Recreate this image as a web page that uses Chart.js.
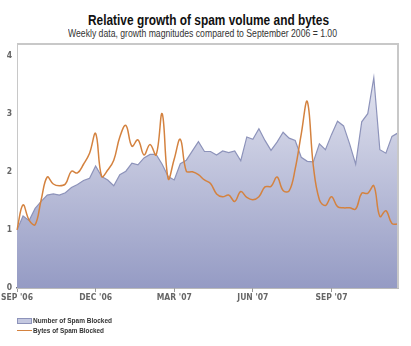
<!DOCTYPE html>
<html lang="en">
<head>
    <meta charset="UTF-8">
    <title>Relative growth of spam volume and bytes</title>
    <script src="https://cdn.jsdelivr.net/npm/chart.js"></script>
    <style>
        body { margin: 0; background: #fff; width: 411px; height: 346px; overflow: hidden; position: relative;
               font-family: "Liberation Sans", Arial, sans-serif; }
        #chart { position: absolute; left: 0; top: 0; }
        .fit { position: absolute; white-space: nowrap; transform-origin: 0 0; }
        .title { top: 12px; font-size: 14.5px; font-weight: bold; color: #111; }
        .subtitle { top: 28px; font-size: 10px; color: #333; }
        .legend { left: 17px; font-size: 7.5px; font-weight: bold; color: #333; }
        .sw { position: absolute; left: 17px; width: 15px; }
        .box { height: 4px; background: #c4c8e0; border: 1px solid #8d93ba; width: 13px; top: 318px; }
        .ln { height: 0; border-top: 1.5px solid #d4823f; top: 330px; }
    </style>
</head>
<body>
    <div class="fit title" data-x="88" data-w="241">Relative growth of spam volume and bytes</div>
    <div class="fit subtitle" data-x="68" data-w="269">Weekly data, growth magnitudes compared to September 2006 = 1.00</div>
    <canvas id="chart" width="411" height="346"></canvas>
    <div class="sw box"></div>
    <div class="fit legend" style="top:316px" data-x="33" data-w="79">Number of Spam Blocked</div>
    <div class="sw ln"></div>
    <div class="fit legend" style="top:326px" data-x="33" data-w="71">Bytes of Spam Blocked</div>

    <script>
        // weekly values, September 2006 = 1.00
        const spamCount = [1.00, 1.24, 1.16, 1.37, 1.49, 1.60, 1.62, 1.60, 1.64, 1.73,
                           1.78, 1.85, 1.89, 2.10, 1.92, 1.86, 1.76, 1.95, 2.01, 2.15,
                           2.12, 2.24, 2.30, 2.30, 2.13, 1.92, 1.86, 2.14, 2.20, 2.36,
                           2.52, 2.35, 2.35, 2.29, 2.36, 2.33, 2.36, 2.19, 2.60, 2.56,
                           2.74, 2.54, 2.37, 2.51, 2.68, 2.58, 2.54, 2.25, 2.18, 2.17,
                           2.48, 2.38, 2.64, 2.87, 2.79, 2.48, 2.13, 2.86, 3.00, 3.62,
                           2.38, 2.32, 2.61, 2.67];
        const spamBytes = [1.00, 1.43, 1.17, 1.09, 1.52, 1.91, 1.79, 1.76, 1.79, 2.01,
                           1.98, 2.13, 2.32, 2.66, 1.92, 2.03, 2.20, 2.60, 2.80, 2.44,
                           2.55, 2.29, 2.47, 2.29, 3.00, 1.88, 2.22, 2.56, 2.01, 2.00,
                           1.95, 1.86, 1.80, 1.62, 1.57, 1.60, 1.49, 1.66, 1.56, 1.52,
                           1.57, 1.74, 1.75, 1.91, 1.68, 1.67, 2.05, 2.65, 3.21, 2.10,
                           1.52, 1.42, 1.57, 1.40, 1.38, 1.38, 1.36, 1.63, 1.63, 1.76,
                           1.23, 1.33, 1.11, 1.10];
        const tickLabels = ["SEP '06", "DEC '06", "MAR '07", "JUN '07", "SEP '07"];
        const weeksPerTick = 13;
        const yTicks = [0, 1, 2, 3, 4];

        const weeks = spamCount.map((_, i) => i);
        const labelFont = { family: '"DejaVu Sans Condensed", sans-serif', size: 8.5, weight: 'bold' };

        // squeeze the narrow-looking texts to the widths in the picture
        document.querySelectorAll('.fit').forEach(el => {
            const w = el.getBoundingClientRect().width;
            el.style.left = el.dataset.x + 'px';
            el.style.transform = 'scaleX(' + (el.dataset.w / w) + ')';
        });

        // light frame round the plot (top and right edges)
        const frame = {
            id: 'frame',
            afterDatasetsDraw(chart) {
                const a = chart.chartArea, ctx = chart.ctx;
                ctx.save();
                ctx.strokeStyle = '#c8c8c8';
                ctx.lineWidth = 2;
                ctx.beginPath();
                ctx.moveTo(a.left, a.top);
                ctx.lineTo(a.right, a.top);
                ctx.lineTo(a.right, a.bottom);
                ctx.stroke();
                ctx.restore();
            }
        };

        function areaFill(context) {
            const a = context.chart.chartArea;
            if (!a) return '#c4c8e0';
            const g = context.chart.ctx.createLinearGradient(0, a.top, 0, a.bottom);
            g.addColorStop(0, '#eeeff6');
            g.addColorStop(1, '#959bc4');
            return g;
        }

        new Chart(document.getElementById('chart'), {
            type: 'line',
            data: {
                labels: weeks,
                datasets: [{
                    label: 'Bytes of Spam Blocked',
                    data: spamBytes,
                    borderColor: '#d4823f',
                    borderWidth: 1.5,
                    tension: 0.4,
                    pointRadius: 0,
                    fill: false,
                    order: 0
                }, {
                    label: 'Number of Spam Blocked',
                    data: spamCount,
                    borderColor: '#8d93ba',
                    borderWidth: 1.2,
                    backgroundColor: areaFill,
                    tension: 0,
                    pointRadius: 0,
                    fill: 'origin',
                    order: 1
                }]
            },
            options: {
                responsive: false,
                animation: false,
                layout: { padding: { top: 44, right: 13, bottom: 38, left: 0 } },
                plugins: { legend: { display: false }, title: { display: false }, tooltip: { enabled: false } },
                scales: {
                    x: {
                        type: 'category',
                        afterFit: s => { s.height = 20; },
                        grid: { drawOnChartArea: false, drawTicks: true, tickLength: 4, color: '#999' },
                        border: { display: true, color: '#777', width: 1.5 },
                        ticks: {
                            autoSkip: false, maxRotation: 0, padding: 1, color: '#666', font: labelFont,
                            callback: (v, i) => i % weeksPerTick === 0 ? tickLabels[i / weeksPerTick] : null
                        }
                    },
                    y: {
                        min: 0,
                        max: 4.2,
                        afterFit: s => { s.width = 17; },
                        afterBuildTicks: s => { s.ticks = yTicks.map(v => ({ value: v })); },
                        grid: { drawOnChartArea: false, drawTicks: false },
                        border: { display: true, color: '#c8c8c8', width: 1 },
                        ticks: { padding: 5, color: '#666', font: labelFont }
                    }
                }
            },
            plugins: [frame]
        });
    </script>
</body>
</html>
